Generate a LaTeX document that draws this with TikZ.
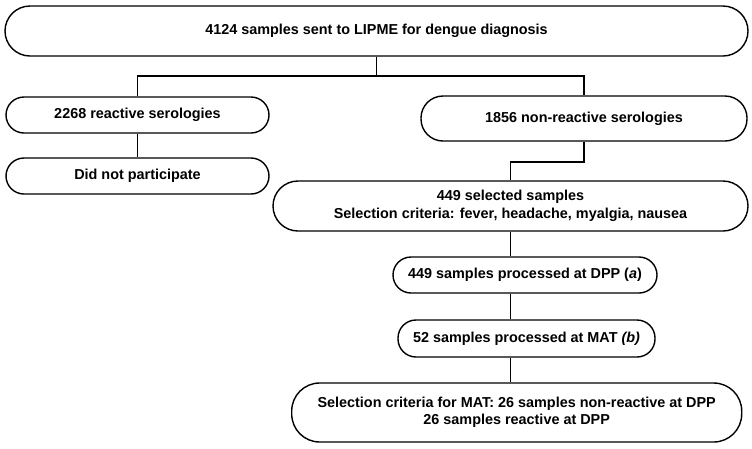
\documentclass[tikz,border=0pt]{standalone}
\usepackage{fontspec}
\setmainfont{Liberation Sans}
\begin{document}
\begin{tikzpicture}[x=1pt,y=-1pt,
  box/.style={draw=black, line width=1.4pt, fill=white, inner sep=0pt, align=center,
    font=\fontsize{14.4}{18}\selectfont\bfseries},
  link/.style={draw=black, line width=1.4pt}]
\useasboundingbox (0,0) rectangle (752,448);
\node[box, minimum width=743pt, minimum height=50pt, rounded corners=25pt] (top) at (376.5,31) {4124 samples sent to LIPME for dengue diagnosis};
\node[box, minimum width=263pt, minimum height=36pt, rounded corners=18pt] (reac) at (137.5,115) {2268 reactive serologies};
\node[box, minimum width=263pt, minimum height=36pt, rounded corners=18pt] (dnp) at (137.5,176) {Did not participate};
\node[box, minimum width=326pt, minimum height=45pt, rounded corners=22pt] (nonr) at (584,118.5) {1856 non-reactive serologies};
\node[box, minimum width=475pt, minimum height=50pt, rounded corners=25pt] (sel) at (510.5,206) {449 selected samples\\Selection criteria: fever, headache, myalgia, nausea};
\node[box, minimum width=264pt, minimum height=36pt, rounded corners=18pt] (dpp) at (525,275) {449 samples processed at DPP (\textit{a})};
\node[box, minimum width=257pt, minimum height=37pt, rounded corners=18pt] (mat) at (526.5,338.5) {52 samples processed at MAT \textit{(b)}};
\node[box, minimum width=450pt, minimum height=59pt, rounded corners=28pt, font=\fontsize{14.4}{17.5}\selectfont\bfseries] (fin) at (516.7,412.5) {Selection criteria for MAT: 26 samples non-reactive at DPP\\26 samples reactive at DPP};
\coordinate (split) at (376.5,76);
\coordinate (jog) at (584,162);
\draw[link] (top.south) -- (split);
\draw[link] (split) -| (reac.north);
\draw[link] (split) -| (nonr.north);
\draw[link] (reac.south) -- (dnp.north);
\draw[link] (nonr.south) -- (jog) -| (sel.north);
\draw[link] (sel.south) -- (sel.south |- dpp.north);
\draw[link] (sel.south |- dpp.south) -- (sel.south |- mat.north);
\draw[link] (sel.south |- mat.south) -- (sel.south |- fin.north);
\end{tikzpicture}
\end{document}
